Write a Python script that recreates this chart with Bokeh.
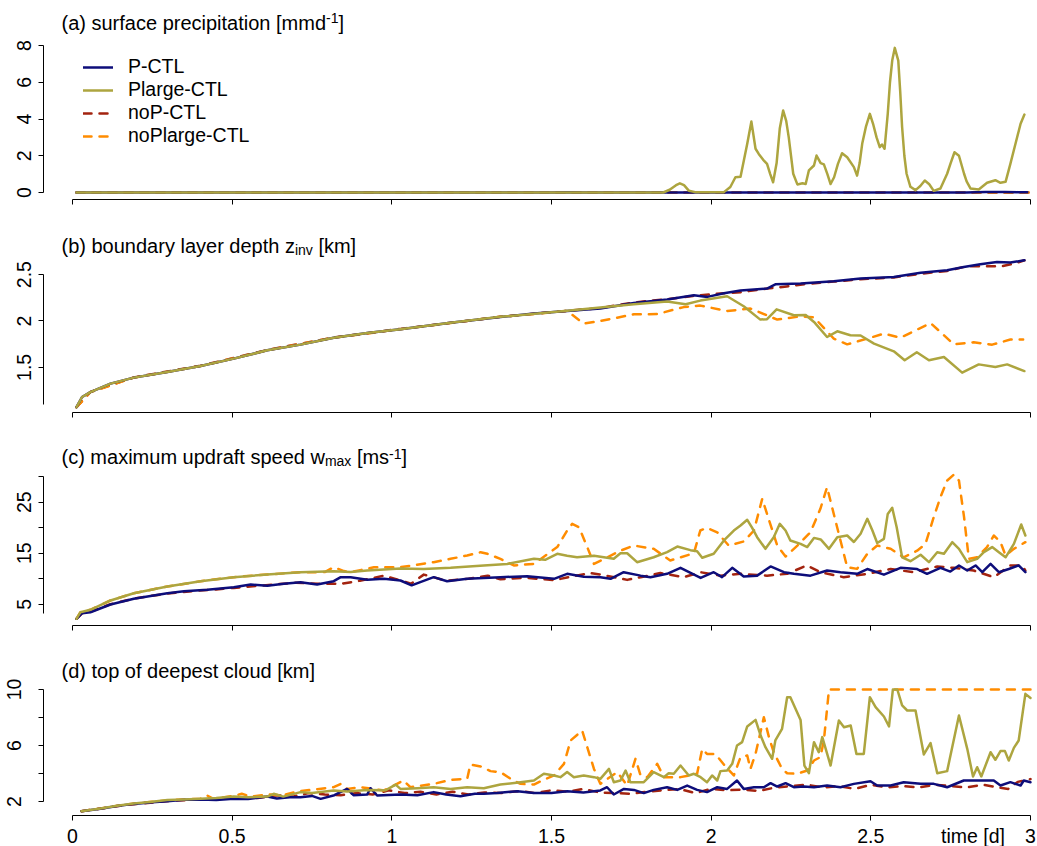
from bokeh.plotting import figure
from bokeh.models import (Range1d, FixedTicker, CustomJSTickFormatter, Label,
                          Legend, LegendItem)
from bokeh.layouts import column
from bokeh.embed import file_html
from bokeh.resources import INLINE

FONT = "Liberation Sans"

SERIES = ["P-CTL", "Plarge-CTL", "noP-CTL", "noPlarge-CTL"]
COLORS = {"P-CTL": "#0d0d7a", "Plarge-CTL": "#ada53f",
          "noP-CTL": "#a3230f", "noPlarge-CTL": "#ff8c00"}
DASHES = {"P-CTL": "solid", "Plarge-CTL": "solid",
          "noP-CTL": "8 8", "noPlarge-CTL": "8 8"}

X_TICKS = [0, 0.5, 1, 1.5, 2, 2.5, 3]
X_LABEL = "time [d]"
X_LABEL_AT = 2.82

# ---------------- (a) surface precipitation [mm d-1] ----------------
A_P_CTL = [(0.0125, 0), (1.50, 0), (1.55, 0.02), (1.60, 0), (2.80, 0), (2.86, 0.03),
           (2.92, 0.03), (2.96, 0.02), (2.99, 0.01)]
A_NOP_CTL = [(0.0125, 0), (3.0, 0)]
A_NOPLARGE_CTL = [(0.0125, 0), (3.0, 0)]
A_PLARGE_CTL = [(0.0125, 0), (1.85, 0), (1.87, 0.15), (1.89, 0.4), (1.902, 0.5), (1.915, 0.4),
    (1.93, 0.1), (1.95, 0.02), (2.04, 0.02), (2.06, 0.3), (2.076, 0.83), (2.092, 0.86),
    (2.103, 1.8), (2.113, 2.65), (2.126, 3.86), (2.139, 2.38), (2.149, 2.1), (2.163, 1.78),
    (2.175, 1.56), (2.185, 1.0), (2.194, 0.56), (2.205, 1.6), (2.215, 3.5), (2.2255, 4.46),
    (2.235, 3.9), (2.243, 3.0), (2.257, 1.02), (2.270, 0.44), (2.286, 0.5), (2.296, 0.46),
    (2.306, 1.2), (2.322, 1.47), (2.330, 2.01), (2.343, 1.6), (2.353, 1.53), (2.364, 1.0),
    (2.374, 0.46), (2.385, 0.83), (2.397, 1.56), (2.410, 2.14), (2.426, 1.92), (2.447, 1.38),
    (2.457, 0.92), (2.465, 1.6), (2.473, 2.65), (2.485, 3.6), (2.497, 4.28), (2.507, 3.74),
    (2.518, 3.0), (2.528, 2.47), (2.535, 2.61), (2.543, 2.38), (2.553, 4.28), (2.560, 6.0),
    (2.567, 7.18), (2.575, 7.87), (2.586, 7.18), (2.592, 5.5), (2.598, 3.56), (2.605, 2.0),
    (2.612, 1.02), (2.624, 0.31), (2.640, 0.13), (2.655, 0.35), (2.669, 0.65), (2.683, 0.45),
    (2.697, 0.09), (2.718, 0.22), (2.739, 1.02), (2.750, 1.6), (2.762, 2.19), (2.776, 2.0),
    (2.792, 1.02), (2.800, 0.6), (2.812, 0.22), (2.838, 0.16), (2.864, 0.53), (2.890, 0.67),
    (2.906, 0.53), (2.922, 0.58), (2.937, 1.56), (2.953, 2.65), (2.969, 3.74), (2.981, 4.24)]

# ---------------- (b) boundary layer depth z_inv [km] ----------------
B_P_CTL = [(0.0125, 1.07), (0.030, 1.18), (0.056, 1.233), (0.119, 1.324), (0.192, 1.389),
    (0.297, 1.45), (0.401, 1.514), (0.505, 1.594), (0.610, 1.684), (0.714, 1.745), (0.818, 1.82),
    (0.923, 1.87), (1.027, 1.912), (1.184, 1.98), (1.340, 2.043), (1.445, 2.08), (1.549, 2.108),
    (1.653, 2.134), (1.758, 2.195), (1.862, 2.231), (1.946, 2.278), (1.988, 2.26), (2.040, 2.30),
    (2.092, 2.33), (2.175, 2.35), (2.201, 2.396), (2.280, 2.404), (2.384, 2.429), (2.468, 2.458),
    (2.572, 2.475), (2.656, 2.52), (2.739, 2.547), (2.791, 2.583), (2.843, 2.612), (2.895, 2.637),
    (2.937, 2.63), (2.981, 2.655)]
B_NOP_CTL = [(0.0125, 1.07), (0.056, 1.235), (0.192, 1.392), (0.401, 1.517), (0.610, 1.687),
    (0.818, 1.822), (1.027, 1.915), (1.340, 2.045), (1.549, 2.11), (1.653, 2.14), (1.758, 2.20),
    (1.862, 2.235), (1.946, 2.27), (2.040, 2.30), (2.092, 2.31), (2.175, 2.35), (2.230, 2.37),
    (2.300, 2.40), (2.384, 2.425), (2.468, 2.45), (2.572, 2.47), (2.656, 2.51), (2.739, 2.54),
    (2.800, 2.59), (2.860, 2.59), (2.910, 2.59), (2.950, 2.62), (2.981, 2.655)]
B_PLARGE_CTL = [(0.0125, 1.07), (0.030, 1.18), (0.056, 1.233), (0.119, 1.324), (0.192, 1.389),
    (0.297, 1.45), (0.401, 1.514), (0.505, 1.594), (0.610, 1.684), (0.714, 1.745), (0.818, 1.82),
    (0.923, 1.87), (1.027, 1.912), (1.184, 1.98), (1.340, 2.045), (1.549, 2.11), (1.653, 2.145),
    (1.758, 2.18), (1.862, 2.21), (1.920, 2.18), (1.966, 2.22), (2.050, 2.267), (2.102, 2.159),
    (2.154, 2.015), (2.175, 2.02), (2.205, 2.126), (2.259, 2.062), (2.296, 2.065), (2.322, 1.99),
    (2.363, 1.827), (2.395, 1.889), (2.436, 1.846), (2.468, 1.843), (2.510, 1.756), (2.572, 1.673),
    (2.606, 1.576), (2.644, 1.662), (2.682, 1.576), (2.729, 1.611), (2.786, 1.443), (2.838, 1.532),
    (2.890, 1.503), (2.927, 1.532), (2.981, 1.46)]
B_NOPLARGE_CTL = [(0.0125, 1.07), (0.056, 1.233), (0.192, 1.389), (0.401, 1.514), (0.610, 1.684),
    (0.818, 1.82), (1.027, 1.912), (1.340, 2.045), (1.549, 2.108), (1.601, 1.972), (1.653, 2.0),
    (1.758, 2.072), (1.831, 2.075), (1.914, 2.15), (1.966, 2.166), (2.050, 2.108), (2.123, 2.134),
    (2.207, 2.015), (2.280, 2.05), (2.322, 2.04), (2.384, 1.81), (2.426, 1.748), (2.489, 1.81),
    (2.541, 1.864), (2.593, 1.82), (2.687, 1.978), (2.760, 1.748), (2.822, 1.77), (2.880, 1.745),
    (2.937, 1.80), (2.977, 1.80)]

# ---------------- (c) maximum updraft speed w_max [m s-1] ----------------
C_P_CTL = [(0.0125, 2.14), (0.030, 3.24), (0.056, 3.43), (0.119, 4.94), (0.192, 6.06),
    (0.297, 7.16), (0.349, 7.55), (0.422, 7.82), (0.505, 8.33), (0.558, 8.86), (0.610, 8.6),
    (0.662, 9.0), (0.714, 9.31), (0.766, 8.86), (0.818, 9.51), (0.840, 10.3), (0.871, 10.3),
    (0.923, 9.8), (0.975, 9.98), (1.027, 9.65), (1.062, 8.7), (1.131, 10.3), (1.173, 9.5),
    (1.236, 9.98), (1.340, 10.3), (1.424, 10.5), (1.508, 9.98), (1.549, 10.96), (1.601, 10.4),
    (1.653, 10.3), (1.685, 9.98), (1.726, 11.27), (1.779, 10.6), (1.810, 10.3), (1.862, 10.96),
    (1.904, 12.13), (1.967, 10.16), (2.008, 11.27), (2.034, 10.3), (2.066, 12.13), (2.102, 10.43),
    (2.144, 10.6), (2.186, 12.4), (2.228, 11.27), (2.259, 10.96), (2.311, 10.6), (2.363, 11.6),
    (2.405, 11.27), (2.457, 10.96), (2.489, 11.9), (2.541, 10.8), (2.593, 12.13), (2.645, 11.9),
    (2.676, 10.96), (2.718, 12.13), (2.749, 11.4), (2.776, 12.6), (2.802, 11.6), (2.828, 12.6),
    (2.849, 11.27), (2.875, 12.9), (2.901, 11.27), (2.932, 11.9), (2.963, 12.6), (2.984, 11.27)]
C_NOP_CTL = [(0.0125, 2.14), (0.030, 3.2), (0.056, 3.5), (0.119, 5.0), (0.192, 6.1),
    (0.297, 7.1), (0.38, 7.6), (0.45, 7.9), (0.505, 8.2), (0.58, 8.6), (0.64, 8.9), (0.70, 9.2),
    (0.77, 9.0), (0.84, 9.0), (0.90, 9.6), (0.975, 10.6), (1.03, 9.6), (1.06, 9.0), (1.10, 10.8),
    (1.17, 9.6), (1.24, 10.0), (1.30, 10.6), (1.34, 9.9), (1.42, 10.2), (1.508, 9.7), (1.56, 10.4),
    (1.622, 11.1), (1.653, 10.82), (1.737, 9.77), (1.779, 10.3), (1.841, 11.1), (1.914, 10.3),
    (1.967, 11.27), (2.029, 10.6), (2.092, 10.96), (2.175, 10.6), (2.238, 10.96), (2.300, 12.6),
    (2.342, 11.27), (2.415, 10.3), (2.489, 10.96), (2.562, 11.9), (2.635, 11.27), (2.708, 12.4),
    (2.760, 12.13), (2.822, 11.6), (2.885, 10.3), (2.937, 12.6), (2.974, 12.6), (2.984, 11.6)]
C_PLARGE_CTL = [(0.0125, 2.14), (0.025, 3.43), (0.056, 3.9), (0.119, 5.73), (0.192, 7.16),
    (0.297, 8.47), (0.401, 9.51), (0.505, 10.3), (0.610, 10.82), (0.714, 11.27), (0.818, 11.47),
    (0.871, 11.3), (0.923, 11.6), (1.027, 12.0), (1.100, 11.9), (1.184, 12.13), (1.288, 12.59),
    (1.361, 12.9), (1.445, 13.9), (1.480, 13.7), (1.518, 14.88), (1.549, 14.5), (1.580, 14.2),
    (1.633, 14.5), (1.695, 13.9), (1.716, 15.0), (1.737, 15.0), (1.768, 13.24), (1.820, 14.2),
    (1.862, 15.2), (1.894, 16.3), (1.935, 15.6), (1.956, 15.4), (1.972, 14.1), (2.008, 14.9),
    (2.040, 17.5), (2.071, 19.45), (2.092, 20.43), (2.113, 21.55), (2.128, 20.0), (2.144, 18.14),
    (2.170, 15.86), (2.196, 18.14), (2.215, 20.76), (2.233, 19.45), (2.248, 17.5), (2.280, 16.84),
    (2.301, 16.2), (2.322, 18.0), (2.343, 17.7), (2.369, 15.86), (2.395, 18.14), (2.426, 18.47),
    (2.447, 17.2), (2.468, 18.8), (2.489, 21.74), (2.505, 19.45), (2.520, 17.0), (2.541, 17.8),
    (2.553, 22.7), (2.567, 23.9), (2.581, 20.1), (2.598, 14.2), (2.624, 13.43), (2.656, 14.7),
    (2.682, 13.24), (2.708, 15.2), (2.729, 14.9), (2.755, 17.16), (2.776, 15.86), (2.802, 13.24),
    (2.833, 13.9), (2.854, 15.2), (2.880, 16.2), (2.901, 15.2), (2.922, 14.2), (2.948, 16.84),
    (2.971, 20.63), (2.984, 18.47)]
C_NOPLARGE_CTL = [(0.0125, 2.14), (0.025, 3.43), (0.056, 3.9), (0.119, 5.73), (0.192, 7.16),
    (0.297, 8.47), (0.401, 9.51), (0.505, 10.3), (0.610, 10.82), (0.714, 11.27), (0.790, 11.3),
    (0.818, 12.25), (0.850, 11.5), (0.871, 11.27), (0.944, 12.25), (1.027, 12.25), (1.131, 13.24),
    (1.184, 13.9), (1.236, 14.55), (1.278, 15.2), (1.299, 14.9), (1.340, 13.9), (1.382, 12.6),
    (1.445, 12.9), (1.518, 16.2), (1.549, 19.45), (1.565, 20.76), (1.586, 20.1), (1.612, 16.2),
    (1.633, 12.9), (1.675, 14.2), (1.716, 15.5), (1.758, 16.5), (1.820, 15.86), (1.872, 13.57),
    (1.946, 15.0), (1.966, 19.45), (1.987, 19.97), (2.019, 19.1), (2.055, 16.5), (2.102, 17.3),
    (2.134, 19.45), (2.160, 25.67), (2.175, 22.7), (2.207, 16.5), (2.233, 14.35), (2.270, 16.5),
    (2.311, 19.1), (2.342, 23.7), (2.363, 27.94), (2.384, 22.7), (2.405, 17.5), (2.426, 12.25),
    (2.457, 11.93), (2.489, 14.9), (2.520, 16.5), (2.562, 15.86), (2.603, 14.2), (2.645, 15.5),
    (2.671, 16.8), (2.697, 22.06), (2.718, 25.98), (2.739, 29.25), (2.760, 30.4), (2.776, 29.25),
    (2.792, 22.06), (2.807, 13.9), (2.833, 14.2), (2.864, 16.2), (2.885, 18.47), (2.906, 17.2),
    (2.922, 14.55), (2.948, 15.86), (2.984, 17.16)]

# ---------------- (d) top of deepest cloud [km] ----------------
D_P_CTL = [(0.028, 1.31), (0.088, 1.48), (0.14, 1.68), (0.192, 1.83), (0.25, 1.95), (0.297, 2.02),
    (0.35, 2.12), (0.401, 2.15), (0.45, 2.1), (0.505, 2.2), (0.55, 2.18), (0.61, 2.35), (0.64, 2.22),
    (0.68, 2.3), (0.714, 2.31), (0.75, 2.4), (0.777, 2.19), (0.82, 2.45), (0.860, 2.9), (0.88, 2.45),
    (0.923, 2.5), (0.933, 2.95), (0.954, 2.43), (1.027, 2.5), (1.08, 2.45), (1.131, 2.67),
    (1.17, 2.5), (1.215, 2.38), (1.26, 2.55), (1.288, 2.55), (1.33, 2.6), (1.393, 2.74),
    (1.445, 2.6), (1.50, 2.6), (1.549, 2.74), (1.60, 2.65), (1.653, 2.79), (1.674, 3.02),
    (1.695, 2.5), (1.727, 2.9), (1.758, 2.83), (1.789, 2.6), (1.820, 2.83), (1.862, 3.02),
    (1.894, 2.83), (1.925, 3.14), (1.956, 2.83), (1.987, 2.67), (2.019, 3.02), (2.050, 2.9),
    (2.081, 3.5), (2.102, 2.9), (2.134, 3.02), (2.165, 3.02), (2.186, 3.31), (2.207, 3.07),
    (2.233, 3.31), (2.259, 3.02), (2.290, 3.07), (2.322, 3.02), (2.363, 3.14), (2.405, 3.02),
    (2.447, 3.26), (2.499, 3.45), (2.520, 3.14), (2.562, 3.14), (2.603, 3.38), (2.656, 3.26),
    (2.697, 3.26), (2.739, 3.02), (2.791, 3.5), (2.843, 3.5), (2.885, 3.5), (2.906, 3.14),
    (2.937, 3.38), (2.969, 3.14), (2.979, 3.5), (3.0, 3.38)]
D_NOP_CTL = [(0.028, 1.31), (0.09, 1.5), (0.15, 1.7), (0.2, 1.82), (0.26, 1.95), (0.31, 2.05),
    (0.36, 2.1), (0.42, 2.2), (0.47, 2.25), (0.53, 2.3), (0.58, 2.25), (0.64, 2.45), (0.69, 2.35),
    (0.74, 2.6), (0.79, 2.5), (0.84, 2.45), (0.89, 2.6), (0.94, 2.5), (0.99, 2.8), (1.04, 2.6),
    (1.09, 2.7), (1.14, 2.5), (1.19, 2.7), (1.24, 2.5), (1.29, 2.65), (1.34, 2.6), (1.40, 2.75),
    (1.45, 2.6), (1.50, 2.8), (1.55, 2.7), (1.60, 2.9), (1.65, 2.65), (1.70, 2.6), (1.75, 2.55),
    (1.80, 2.7), (1.85, 2.8), (1.90, 2.9), (1.95, 2.6), (2.00, 2.9), (2.05, 2.8), (2.10, 2.85),
    (2.15, 2.75), (2.20, 3.0), (2.25, 3.1), (2.30, 3.2), (2.35, 3.0), (2.40, 3.1), (2.45, 2.9),
    (2.50, 3.2), (2.55, 3.0), (2.60, 3.1), (2.65, 3.0), (2.70, 3.2), (2.75, 3.1), (2.80, 3.0),
    (2.85, 3.2), (2.90, 3.0), (2.93, 2.9), (2.96, 3.4), (3.0, 3.6)]
D_PLARGE_CTL = [(0.028, 1.31), (0.088, 1.5), (0.14, 1.7), (0.192, 1.85), (0.25, 1.98),
    (0.297, 2.1), (0.35, 2.15), (0.401, 2.2), (0.45, 2.25), (0.505, 2.35), (0.55, 2.3), (0.61, 2.35),
    (0.63, 2.55), (0.66, 2.35), (0.714, 2.67), (0.75, 2.6), (0.818, 2.79), (0.86, 2.72),
    (0.923, 2.83), (0.98, 2.8), (1.012, 3.21), (1.027, 2.9), (1.08, 2.95), (1.131, 3.02),
    (1.184, 2.9), (1.236, 3.02), (1.288, 2.95), (1.340, 3.21), (1.403, 3.38), (1.445, 3.5),
    (1.476, 3.98), (1.508, 3.86), (1.528, 3.74), (1.549, 4.1), (1.570, 3.74), (1.601, 3.86),
    (1.633, 3.74), (1.653, 3.62), (1.680, 4.33), (1.695, 3.38), (1.716, 3.5), (1.732, 4.21),
    (1.747, 3.38), (1.789, 3.38), (1.820, 4.1), (1.852, 3.74), (1.867, 4.02), (1.883, 3.98),
    (1.904, 4.57), (1.930, 3.86), (1.946, 3.98), (1.967, 3.74), (1.987, 3.38), (2.003, 3.86),
    (2.019, 3.5), (2.029, 4.17), (2.050, 4.21), (2.066, 4.69), (2.081, 6.0), (2.097, 6.24),
    (2.113, 7.36), (2.139, 7.83), (2.155, 6.71), (2.170, 5.88), (2.191, 5.05), (2.201, 6.36),
    (2.222, 7.19), (2.238, 9.45), (2.248, 9.45), (2.280, 7.83), (2.292, 4.57), (2.306, 4.02),
    (2.322, 6.24), (2.337, 5.52), (2.348, 6.6), (2.374, 4.57), (2.400, 7.79), (2.416, 7.31),
    (2.437, 7.43), (2.455, 5.4), (2.478, 5.4), (2.497, 9.45), (2.515, 8.74), (2.541, 8.07),
    (2.557, 7.36), (2.569, 10.0), (2.583, 10.0), (2.598, 8.86), (2.614, 8.5), (2.640, 8.5),
    (2.666, 5.36), (2.687, 6.17), (2.708, 4.02), (2.739, 4.17), (2.776, 8.14), (2.802, 5.76),
    (2.820, 3.79), (2.833, 4.45), (2.846, 3.79), (2.875, 5.52), (2.890, 4.98), (2.906, 5.6),
    (2.920, 5.6), (2.932, 4.93), (2.948, 5.83), (2.963, 6.36), (2.984, 9.69), (3.0, 9.4)]
D_NOPLARGE_CTL = [(0.028, 1.31), (0.088, 1.5), (0.14, 1.7), (0.192, 1.85), (0.25, 1.98),
    (0.297, 2.08), (0.35, 2.15), (0.401, 2.2), (0.42, 2.45), (0.44, 2.2), (0.505, 2.4), (0.53, 2.55),
    (0.56, 2.35), (0.61, 2.5), (0.66, 2.45), (0.70, 2.7), (0.714, 2.74), (0.818, 3.02),
    (0.840, 3.26), (0.860, 2.9), (0.902, 3.02), (0.975, 2.79), (1.037, 3.5), (1.058, 3.02),
    (1.131, 3.26), (1.184, 3.55), (1.236, 3.62), (1.246, 4.64), (1.278, 4.5), (1.309, 4.17),
    (1.340, 4.1), (1.372, 3.62), (1.403, 3.26), (1.445, 3.21), (1.476, 3.55), (1.508, 3.86),
    (1.539, 4.69), (1.560, 6.36), (1.596, 7.07), (1.612, 5.88), (1.633, 4.33), (1.653, 3.26),
    (1.706, 4.1), (1.737, 3.14), (1.763, 5.05), (1.779, 3.86), (1.800, 3.74), (1.831, 4.69),
    (1.852, 3.74), (1.904, 3.74), (1.956, 3.98), (1.972, 5.76), (1.987, 5.4), (2.013, 5.4),
    (2.045, 4.5), (2.071, 3.86), (2.092, 5.17), (2.113, 5.29), (2.123, 4.33), (2.139, 5.4),
    (2.165, 8.02), (2.181, 6.6), (2.196, 5.52), (2.222, 4.33), (2.238, 4.02), (2.269, 3.98),
    (2.301, 4.21), (2.322, 4.93), (2.342, 5.17), (2.353, 6.36), (2.369, 10.0), (3.0, 10.0)]

A_Y_TICKS = [0, 2, 4, 6, 8]
B_Y_TICKS = [1.5, 2, 2.5]
C_Y_TICKS = [5, 10, 15, 20, 25, 30]
D_Y_TICKS = [2, 4, 6, 8, 10]


def style_axis(ax):
    ax.axis_line_color = "black"
    ax.axis_line_width = 1
    ax.major_tick_line_color = "black"
    ax.major_tick_in = 0
    ax.major_tick_out = 5
    ax.minor_tick_out = 0
    ax.minor_tick_in = 0
    ax.major_label_text_font = FONT
    ax.major_label_text_font_size = "19.5px"
    ax.major_label_text_color = "black"


def make_panel(yr, frame_h, top, bottom, yticks, ybounds, yfmt, ystand, show_x=False):
    p = figure(frame_width=992, frame_height=frame_h,
               min_border_left=43, min_border_right=2,
               min_border_top=top, min_border_bottom=bottom,
               x_range=Range1d(-0.0908, 3.0157), y_range=Range1d(*yr),
               output_backend="svg", toolbar_location=None)
    p.outline_line_color = None
    p.xgrid.visible = False
    p.ygrid.visible = False
    p.background_fill_color = "white"
    p.border_fill_color = "white"
    style_axis(p.xaxis[0])
    style_axis(p.yaxis[0])
    xa = p.xaxis[0]
    xa.bounds = (0, 3)
    if show_x:
        # labelled ticks (incl. the axis title) carry no mark; marks come from minor ticks
        xa.ticker = FixedTicker(ticks=X_TICKS + [X_LABEL_AT], minor_ticks=X_TICKS)
        xa.major_tick_line_color = None
        xa.minor_tick_out = 5
        xa.minor_tick_line_color = "black"
        xa.major_label_standoff = 4
        xa.formatter = CustomJSTickFormatter(
            args=dict(lab=X_LABEL, at=X_LABEL_AT),
            code="return (Math.abs(tick - at) < 1e-6) ? lab : tick.toString();")
    else:
        xa.ticker = FixedTicker(ticks=X_TICKS)
        xa.major_label_text_font_size = "0px"
        xa.major_label_standoff = 0
        xa.formatter = CustomJSTickFormatter(code="return '';")
    ya = p.yaxis[0]
    ya.ticker = FixedTicker(ticks=yticks)
    ya.bounds = ybounds
    ya.major_label_orientation = "vertical"
    ya.major_label_standoff = ystand
    ya.formatter = CustomJSTickFormatter(code=yfmt)
    return p


def draw(p, name, pairs):
    t = [a for a, b in pairs]
    v = [b for a, b in pairs]
    return p.line(t, v, line_color=COLORS[name], line_width=2.5,
                  line_dash=DASHES[name], line_cap="round", line_join="round")


def txt(p, x, y, s, size="20px"):
    p.add_layout(Label(x=x, y=y, text=s, text_font=FONT, text_font_size=size,
                       text_color="black", text_align="left", text_baseline="alphabetic"))


SHOW = "return tick.toString();"

# panel a
pa = make_panel((-0.381, 10.177), 194, 5, 13, A_Y_TICKS, (0, 8), SHOW, 7)
r_nop = draw(pa, "noP-CTL", A_NOP_CTL)
r_noplarge = draw(pa, "noPlarge-CTL", A_NOPLARGE_CTL)
r_p = draw(pa, "P-CTL", A_P_CTL)
r_plarge = draw(pa, "Plarge-CTL", A_PLARGE_CTL)
leg = Legend(items=[LegendItem(label="P-CTL", renderers=[r_p]),
                    LegendItem(label="Plarge-CTL", renderers=[r_plarge]),
                    LegendItem(label="noP-CTL", renderers=[r_nop]),
                    LegendItem(label="noPlarge-CTL", renderers=[r_noplarge])],
             location=(40, 52), glyph_width=30, glyph_height=20, label_height=20,
             label_standoff=15, spacing=0, padding=0, margin=0,
             border_line_color=None, background_fill_alpha=0,
             label_text_font=FONT, label_text_font_size="19.5px", label_text_color="black")
pa.add_layout(leg)
txt(pa, -0.03445, 9.25, "(a) surface precipitation [mmd")
txt(pa, 0.7939, 9.47, "-1", "14px")
txt(pa, 0.8330, 9.25, "]")

# panel b
pb = make_panel((1.0129, 3.1165), 195, 5, 13, B_Y_TICKS, (1.1, 2.5), SHOW, 7)
draw(pb, "noP-CTL", B_NOP_CTL)
draw(pb, "noPlarge-CTL", B_NOPLARGE_CTL)
draw(pb, "P-CTL", B_P_CTL)
draw(pb, "Plarge-CTL", B_PLARGE_CTL)
txt(pb, -0.03445, 2.814, "(b) boundary layer depth z")
txt(pb, 0.6965, 2.771, "inv", "14px")
txt(pb, 0.7700, 2.814, "[km]")

# panel c
pc = make_panel((0.824, 39.06), 195, 5, 11, C_Y_TICKS, (3.2, 30),
                "return (tick % 10 == 5) ? tick.toString() : '';", 7)
draw(pc, "noP-CTL", C_NOP_CTL)
draw(pc, "noPlarge-CTL", C_NOPLARGE_CTL)
draw(pc, "P-CTL", C_P_CTL)
draw(pc, "Plarge-CTL", C_PLARGE_CTL)
txt(pc, -0.03445, 33.77, "(c) maximum updraft speed w")
txt(pc, 0.7904, 32.99, "max", "14px")
txt(pc, 0.8906, 33.77, "[ms")
txt(pc, 0.9915, 34.55, "-1", "14px")
txt(pc, 1.0303, 33.77, "]")

# panel d
pd = make_panel((1.0, 13.43), 174, 5, 31, D_Y_TICKS, (2, 10),
                "return (tick == 2 || tick == 6 || tick == 10) ? tick.toString() : '';", 17,
                show_x=True)
draw(pd, "noP-CTL", D_NOP_CTL)
draw(pd, "noPlarge-CTL", D_NOPLARGE_CTL)
draw(pd, "P-CTL", D_P_CTL)
draw(pd, "Plarge-CTL", D_PLARGE_CTL)
txt(pd, -0.03445, 11.357, "(d) top of deepest cloud [km]")

layout = column(pa, pb, pc, pd, spacing=0)
open("out.html", "w").write(file_html(layout, INLINE))
